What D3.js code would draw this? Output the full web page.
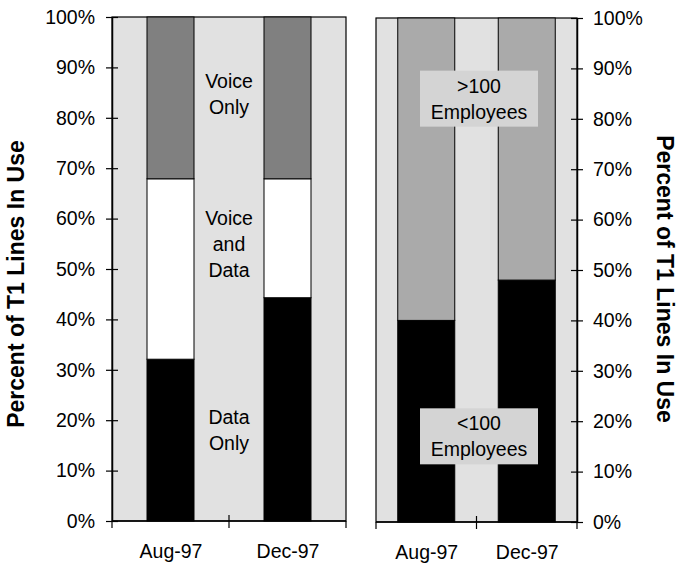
<!DOCTYPE html>
<html><head><meta charset="utf-8">
<script src="https://cdn.jsdelivr.net/npm/d3@7"></script>
<style>
html,body{margin:0;padding:0;background:#fff;}
svg{display:block;font-family:"Liberation Sans",Arial,sans-serif;}
</style></head>
<body><svg id="c" width="679" height="564"></svg>
<script>
// ---- data ----
const categories = ["Aug-97", "Dec-97"];
const dataOnly = [32.1, 44.3];
const voiceAndData = [35.8, 23.6];
const voiceOnly = [32.1, 32.1];
const under100 = [40, 48];
const over100 = [60, 52];
const yTicks = [0, 10, 20, 30, 40, 50, 60, 70, 80, 90, 100];
const leftLabels = [
  {lines: ["Voice", "Only"], y: 84.7},
  {lines: ["Voice", "and", "Data"], y: 55},
  {lines: ["Data", "Only"], y: 18}
];
const rightLabels = [
  {lines: [">100", "Employees"], y: 84},
  {lines: ["<100", "Employees"], y: 17}
];
const axisTitle = "Percent of T1 Lines In Use";

const svg = d3.select("#c");
const FS = 19.5;

function panel(opt) {
  const g = svg.append("g");
  const x = d3.scalePoint().domain(categories).range([opt.x0, opt.x1]).padding(0.5);
  const y = d3.scaleLinear().domain([0, 100]).range([opt.yb, opt.yt]);
  // background
  g.append("rect").attr("x", opt.x0).attr("y", opt.yt)
    .attr("width", opt.x1 - opt.x0).attr("height", opt.yb - opt.yt)
    .attr("fill", "#e1e1e1").attr("stroke", "#000").attr("stroke-width", 1.2);
  // stacked bars
  const rows = categories.map((c, i) => {
    const r = {cat: c};
    opt.keys.forEach((k, j) => r[k] = opt.series[j][i]);
    return r;
  });
  const stacked = d3.stack().keys(opt.keys)(rows);
  stacked.forEach((s, j) => {
    g.selectAll(null).data(s).enter().append("rect")
      .attr("x", d => x(d.data.cat) - opt.bw / 2)
      .attr("width", opt.bw)
      .attr("y", d => y(d[1]))
      .attr("height", d => y(d[0]) - y(d[1]))
      .attr("fill", opt.colors[j])
      .attr("stroke", "#000").attr("stroke-width", 1);
  });
  // y axis
  const yAxis = opt.right ? d3.axisRight(y) : d3.axisLeft(y);
  const ya = g.append("g").attr("transform", `translate(${opt.right ? opt.x1 : opt.x0},0)`)
    .call(yAxis.tickValues(yTicks).tickFormat(d => d + "%").tickSizeInner(6).tickSizeOuter(0));
  ya.selectAll(".tick line").attr("x1", opt.right ? -6 : 6).attr("x2", opt.right ? 6 : -6).attr("stroke-width", 1.2);
  ya.select(".domain").attr("stroke-width", 1.5);
  ya.selectAll(".tick text").attr("x", opt.right ? 16 : -17)
    .attr("font-size", FS).attr("font-family", "Liberation Sans, Arial, sans-serif").attr("fill", "#000");
  // x axis
  const xa = g.append("g").attr("transform", `translate(0,${opt.yb})`)
    .call(d3.axisBottom(x).tickSize(0));
  xa.select(".domain").attr("stroke-width", 1.5).attr("d", `M${opt.x0},0H${opt.x1}`);
  xa.selectAll(".tick text").attr("dy", 0).attr("y", 37)
    .attr("font-size", FS).attr("font-family", "Liberation Sans, Arial, sans-serif").attr("fill", "#000");
  // separator ticks between categories
  const sepVals = [opt.x0, (x(categories[0]) + x(categories[1])) / 2, opt.x1];
  g.selectAll(null).data(sepVals).enter().append("line")
    .attr("x1", d => d).attr("x2", d => d)
    .attr("y1", (d, i) => i === 1 ? opt.yb - 6 : opt.yb).attr("y2", opt.yb + 7)
    .attr("stroke", "#000").attr("stroke-width", 1.2);
  // labels
  opt.labels.forEach(l => {
    const lh = 26;
    const n = l.lines.length;
    const cy = y(l.y);
    const first = cy - (n - 1) * lh / 2 + 7;
    if (opt.boxed) {
      g.append("rect").attr("x", opt.lx - 59).attr("width", 118)
        .attr("y", cy - 28).attr("height", 56).attr("fill", "#d4d4d4");
    }
    const t = g.append("text").attr("text-anchor", "middle").attr("font-size", FS).attr("fill", "#000");
    l.lines.forEach((s, i) => t.append("tspan").attr("x", opt.lx).attr("y", first + i * lh).text(s));
  });
  return {x, y};
}

panel({x0: 112, x1: 346, yt: 17, yb: 521, bw: 47, keys: ["d", "vd", "v"],
  series: [dataOnly, voiceAndData, voiceOnly], colors: ["#000", "#fff", "#808080"],
  labels: leftLabels, lx: 229, right: false, boxed: false});
panel({x0: 376, x1: 577, yt: 18, yb: 522, bw: 57, keys: ["s", "l"],
  series: [under100, over100], colors: ["#000", "#aaaaaa"],
  labels: rightLabels, lx: 479, right: true, boxed: true});

// axis titles
svg.append("text").attr("transform", "translate(24,284) rotate(-90)")
  .attr("text-anchor", "middle").attr("font-size", 23).attr("font-weight", "bold").text(axisTitle);
svg.append("text").attr("transform", "translate(657,279) rotate(90)")
  .attr("text-anchor", "middle").attr("font-size", 23).attr("font-weight", "bold").text(axisTitle);
</script></body></html>
